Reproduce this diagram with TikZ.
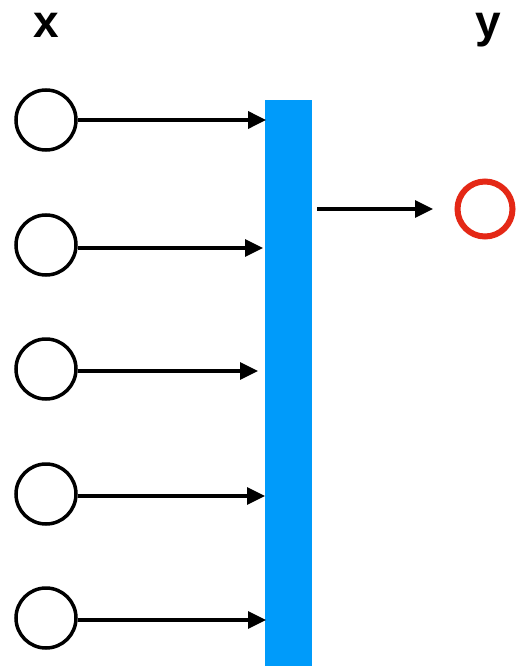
\documentclass[tikz,border=0pt]{standalone}
\usepackage{fontspec}
\setmainfont{Liberation Sans}
\usetikzlibrary{arrows.meta}
\definecolor{barblue}{RGB}{0,155,250}
\definecolor{outred}{RGB}{228,40,22}
\begin{document}
\begin{tikzpicture}[x=1pt,y=-1pt,
  innode/.style={circle,draw=black,line width=3.5pt,minimum size=60pt,inner sep=0pt},
  outnode/.style={circle,draw=outred,line width=6pt,minimum size=55pt,inner sep=0pt},
  conn/.style={line width=3.2pt,-{Triangle[length=18pt,width=17pt]}},
  lbl/.style={font=\bfseries\fontsize{46}{46}\selectfont,anchor=base}]
\useasboundingbox (0,0) rectangle (520,668);
\fill[barblue] (265,100) rectangle (312,666);
\node[lbl] (lx) at (46,38) {x};
\node[lbl] (ly) at (488,38) {y};
\node[innode] (x1) at (46,120) {};
\node[innode] (x2) at (46,245) {};
\node[innode] (x3) at (46,369) {};
\node[innode] (x4) at (46,494) {};
\node[innode] (x5) at (46,618) {};
\coordinate (t1) at (266,120);
\coordinate (t2) at (263,248);
\coordinate (t3) at (258,371);
\coordinate (t4) at (265,496);
\coordinate (t5) at (266,620);
\draw[conn,line width=3.6pt] (x1.east) -- (t1);
\draw[conn] (x2.east |- t2) -- (t2);
\draw[conn] (x3.east |- t3) -- (t3);
\draw[conn] (x4.east |- t4) -- (t4);
\draw[conn] (x5.east |- t5) -- (t5);
\node[outnode] (y) at (485,209) {};
\coordinate (s) at (317,209);
\coordinate (e) at (433,209);
\draw[conn] (s) -- (e);
\end{tikzpicture}
\end{document}
